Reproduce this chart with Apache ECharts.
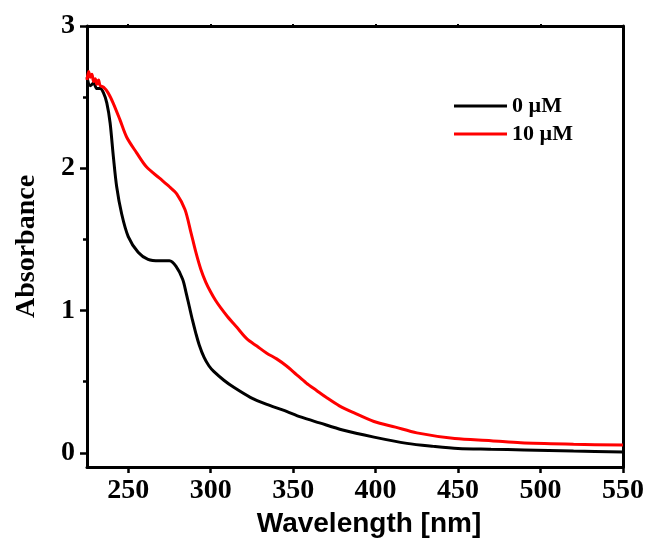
<!DOCTYPE html>
<html>
<head>
<meta charset="utf-8">
<script src="https://cdn.jsdelivr.net/npm/echarts@6/dist/echarts.min.js"></script>
<style>html,body{margin:0;padding:0;background:#fff}#c{width:651px;height:547px}</style>
</head>
<body>
<div id="c"></div>
<script>
// ---- data ----
const seriesNames = ['0 \u00b5M', '10 \u00b5M'];
const blackX = [225,227,229,231,233,235,237,239,241,243,246,250,256,262,269,275,279,283,285,287,289,291,293,296,299,302,308,314,324,334,344,355,366,380,399,419,435,450,470,490,520,550];
const blackY = [2.64,2.58,2.60,2.56,2.56,2.53,2.46,2.32,2.08,1.87,1.68,1.52,1.41,1.36,1.35,1.35,1.31,1.22,1.13,1.03,0.93,0.84,0.76,0.67,0.61,0.57,0.51,0.46,0.39,0.34,0.30,0.25,0.21,0.16,0.11,0.066,0.045,0.03,0.025,0.02,0.012,0.005];
const redX = [225,226,227,228,229,230,231,232,233,235,237.8,240.8,245,249,255,261,269,275,279.4,284.4,288,291,294,297,300,303,306,310,316,322,328,334,340,346,352,358,364,370,378,387,399,412,425,448,470,488,520,550];
const redY = [2.62,2.68,2.64,2.66,2.61,2.63,2.59,2.62,2.58,2.57,2.53,2.46,2.34,2.22,2.11,2.01,1.93,1.87,1.82,1.71,1.55,1.41,1.29,1.20,1.13,1.07,1.02,0.96,0.88,0.80,0.75,0.70,0.66,0.61,0.55,0.49,0.44,0.39,0.33,0.28,0.22,0.18,0.14,0.10,0.085,0.07,0.06,0.054];
const xTicks = [250,300,350,400,450,500,550];
const yTicks = [0,1,2,3];
const yMinorTicks = [0.5,1.5,2.5];

const serif = 'Liberation Serif';
const sans = 'Liberation Sans';
const pair = (xs, ys) => xs.map((x, i) => [x, ys[i]]);

const chart = echarts.init(document.getElementById('c'));
const axisLine = {show: true, onZero: false, lineStyle: {color: '#000', width: 3}};
chart.setOption({
  animation: false,
  backgroundColor: '#fff',
  grid: {left: 87, right: 28, top: 26, bottom: 80},
  legend: {
    orient: 'vertical', left: 449, top: 90, itemGap: 6,
    itemWidth: 53, itemHeight: 3, icon: 'rect',
    textStyle: {fontFamily: serif, fontWeight: 'bold', fontSize: 22, color: '#000'},
    data: seriesNames
  },
  xAxis: [{
    type: 'value', min: 225, max: 550, position: 'bottom',
    axisLine: axisLine,
    axisTick: {show: true, customValues: xTicks, length: 6, lineStyle: {color: '#000', width: 2.5}},
    axisLabel: {customValues: xTicks, margin: 10, fontFamily: serif, fontWeight: 'bold', fontSize: 28, color: '#000'},
    splitLine: {show: false},
    name: 'Wavelength [nm]', nameLocation: 'middle', nameGap: 38,
    nameTextStyle: {fontFamily: sans, fontWeight: 'bold', fontSize: 28, color: '#000', padding: [0,0,0,28]}
  }, {
    type: 'value', min: 225, max: 550, position: 'top',
    axisLine: axisLine,
    axisTick: {show: true, customValues: [250,300,350,400,450,500], length: 2, lineStyle: {color: '#000', width: 2}},
    axisLabel: {show: false}, splitLine: {show: false}
  }],
  yAxis: [{
    type: 'value', min: -0.1, max: 3, position: 'left',
    axisLine: axisLine,
    axisTick: {show: true, customValues: yTicks, length: 7, lineStyle: {color: '#000', width: 2.5}},
    axisLabel: {customValues: yTicks, margin: 12, fontFamily: serif, fontWeight: 'bold', fontSize: 28, color: '#000'},
    splitLine: {show: false},
    name: 'Absorbance', nameLocation: 'middle', nameGap: 46,
    nameTextStyle: {fontFamily: serif, fontWeight: 'bold', fontSize: 28, color: '#000'}
  }, {
    type: 'value', min: -0.1, max: 3, position: 'left',
    axisLine: {show: false, onZero: false},
    axisTick: {show: true, customValues: yMinorTicks, length: 4, lineStyle: {color: '#000', width: 2.5}},
    axisLabel: {show: false}, splitLine: {show: false}
  }, {
    type: 'value', min: -0.1, max: 3, position: 'right',
    axisLine: axisLine,
    axisTick: {show: true, customValues: [0,0.5,1,1.5,2,2.5], length: 2, lineStyle: {color: '#000', width: 2}},
    axisLabel: {show: false}, splitLine: {show: false}
  }],
  series: [{
    name: seriesNames[0], type: 'line', data: pair(blackX, blackY),
    showSymbol: false, smooth: 0.3, color: '#000',
    lineStyle: {color: '#000', width: 3}
  }, {
    name: seriesNames[1], type: 'line', data: pair(redX, redY),
    showSymbol: false, smooth: 0.3, color: '#ff0000',
    lineStyle: {color: '#ff0000', width: 3}
  }]
});
</script>
</body>
</html>
